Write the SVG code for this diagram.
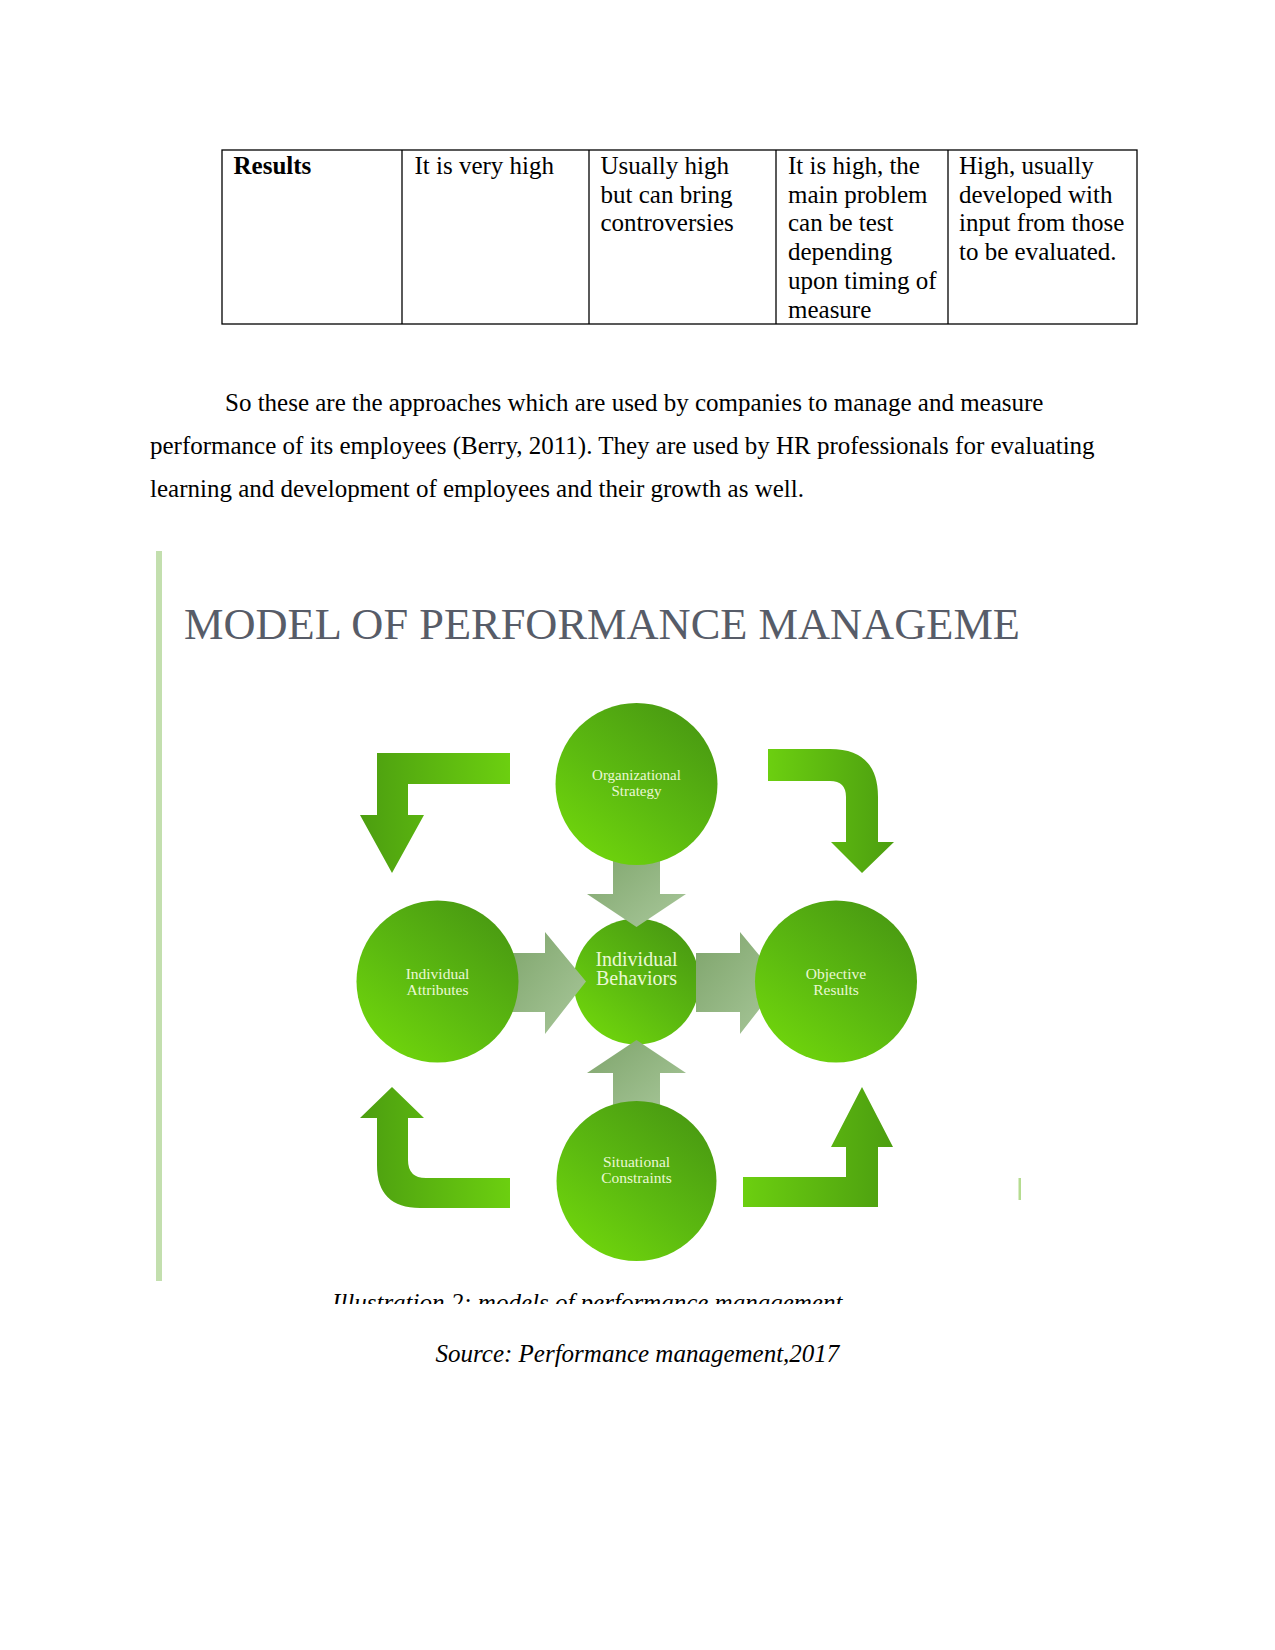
<svg xmlns="http://www.w3.org/2000/svg" width="1275" height="1650" viewBox="0 0 1275 1650">
<defs>
<style>
.t{font-family:"Liberation Serif","Times New Roman",serif;font-size:25px;fill:#000}
.b{font-weight:bold}
.it{font-style:italic}
.cl{font-family:"Liberation Serif","Times New Roman",serif;fill:#eaf8d4;text-anchor:middle}
.tbl{fill:none;stroke:#000;stroke-width:1.3}
.gc{fill:url(#gCircle)}
.ga{fill:url(#gGray)}
</style>
<linearGradient id="gCircle" x1="0.85" y1="0.1" x2="0.2" y2="0.95">
<stop offset="0" stop-color="#4a9b12"/>
<stop offset="0.55" stop-color="#5cba10"/>
<stop offset="1" stop-color="#6fd40c"/>
</linearGradient>
<linearGradient id="gGray" x1="0" y1="0" x2="1" y2="1">
<stop offset="0" stop-color="#7ea46b"/>
<stop offset="1" stop-color="#a9c89b"/>
</linearGradient>
<linearGradient id="gArrH" x1="0" y1="0" x2="1" y2="0">
<stop offset="0" stop-color="#4c9e10"/>
<stop offset="1" stop-color="#6ccf10"/>
</linearGradient>
<linearGradient id="gArrH2" x1="1" y1="0" x2="0" y2="0">
<stop offset="0" stop-color="#4c9e10"/>
<stop offset="1" stop-color="#6ccf10"/>
</linearGradient>
<clipPath id="capClip"><rect x="0" y="1200" width="1275" height="104"/></clipPath>
<clipPath id="imgClip"><rect x="160" y="550" width="860" height="735"/></clipPath>
</defs>
<rect width="1275" height="1650" fill="#fff"/>

<g id="table">
<rect class="tbl" x="222" y="150" width="915" height="174"/>
<line class="tbl" x1="402" y1="150" x2="402" y2="324"/>
<line class="tbl" x1="589" y1="150" x2="589" y2="324"/>
<line class="tbl" x1="776" y1="150" x2="776" y2="324"/>
<line class="tbl" x1="948" y1="150" x2="948" y2="324"/>
<text class="t b" x="233.5" y="174">Results</text>
<text class="t" x="414.5" y="174">It is very high</text>
<text class="t" x="600.5" y="174">Usually high</text>
<text class="t" x="600.5" y="202.7">but can bring</text>
<text class="t" x="600.5" y="231.4">controversies</text>
<text class="t" x="788" y="174">It is high, the</text>
<text class="t" x="788" y="202.7">main problem</text>
<text class="t" x="788" y="231.4">can be test</text>
<text class="t" x="788" y="260.1">depending</text>
<text class="t" x="788" y="288.8">upon timing of</text>
<text class="t" x="788" y="317.5">measure</text>
<text class="t" x="959" y="174">High, usually</text>
<text class="t" x="959" y="202.7">developed with</text>
<text class="t" x="959" y="231.4">input from those</text>
<text class="t" x="959" y="260.1">to be evaluated.</text>
</g>

<g id="paragraph">
<text class="t" x="225" y="410.5">So these are the approaches which are used by companies to manage and measure</text>
<text class="t" x="150" y="453.5">performance of its employees (Berry, 2011). They are used by HR professionals for evaluating</text>
<text class="t" x="150" y="496.5">learning and development of employees and their growth as well.</text>
</g>

<g id="figure">
<rect x="156" y="551" width="6" height="730" fill="#c3dfae"/>
<rect x="1018.5" y="1178" width="2.5" height="22" fill="#b5dc90"/>
<g clip-path="url(#imgClip)">
<text x="184" y="639" font-family="'Liberation Serif','Times New Roman',serif" font-size="44" fill="#575c68" textLength="836" lengthAdjust="spacingAndGlyphs">MODEL OF PERFORMANCE MANAGEME</text>
</g>
</g>

<g id="node-behaviors">
<circle class="gc" cx="636.5" cy="981.5" r="63"/>
</g>

<g id="connectors">
<path class="ga" d="M613,850 L660,850 L660,894 L686,894 L636.5,927 L587,894 L613,894 Z"/>
<path class="ga" d="M613,1115 L660,1115 L660,1073 L686,1073 L636.5,1040 L587,1073 L613,1073 Z"/>
<path class="ga" d="M505,953 L545,953 L545,932 L586,981.5 L545,1034 L545,1012 L505,1012 Z"/>
<path class="ga" d="M696,953 L740,953 L740,932 L781,981.5 L740,1034 L740,1012 L696,1012 Z"/>
<path fill="url(#gArrH)" d="M510,753 L510,784 L408,784 L408,815 L424,815 L392,873 L360,815 L377,815 L377,753 Z"/>
<path fill="url(#gArrH2)" d="M768,749 L830,749 Q878,749 878,797 L878,842 L894,842 L862,873 L831,842 L846,842 L846,797 Q846,781 830,781 L768,781 Z"/>
<path fill="url(#gArrH)" d="M392,1087 L424,1118 L408,1118 L408,1160 Q408,1178 426,1178 L510,1178 L510,1208 L420,1208 Q377,1208 377,1165 L377,1118 L360,1118 Z"/>
<path fill="url(#gArrH2)" d="M743,1177 L846,1177 L846,1147 L831,1147 L862,1087 L893,1147 L878,1147 L878,1207 L743,1207 Z"/>
</g>

<g id="node-behaviors-label">
<text class="cl" x="636.5" y="966" font-size="20">Individual</text>
<text class="cl" x="636.5" y="985" font-size="20">Behaviors</text>
</g>

<g id="node-strategy">
<circle class="gc" cx="636.5" cy="784" r="81"/>
<text class="cl" x="636.5" y="780" font-size="15">Organizational</text>
<text class="cl" x="636.5" y="796" font-size="15">Strategy</text>
</g>

<g id="node-attributes">
<circle class="gc" cx="437.5" cy="981.5" r="81"/>
<text class="cl" x="437.5" y="979" font-size="15.5">Individual</text>
<text class="cl" x="437.5" y="995" font-size="15.5">Attributes</text>
</g>

<g id="node-results">
<circle class="gc" cx="836" cy="981.5" r="81"/>
<text class="cl" x="836" y="979" font-size="15.5">Objective</text>
<text class="cl" x="836" y="995" font-size="15.5">Results</text>
</g>

<g id="node-constraints">
<circle class="gc" cx="636.5" cy="1181" r="80"/>
<text class="cl" x="636.5" y="1167" font-size="15.5">Situational</text>
<text class="cl" x="636.5" y="1183" font-size="15.5">Constraints</text>
</g>

<g id="captions">
<g clip-path="url(#capClip)">
<text class="t it" x="332" y="1311">Illustration 2: models of performance management</text>
</g>
<text class="t it" x="435.5" y="1362">Source: Performance management,2017</text>
</g>
</svg>
